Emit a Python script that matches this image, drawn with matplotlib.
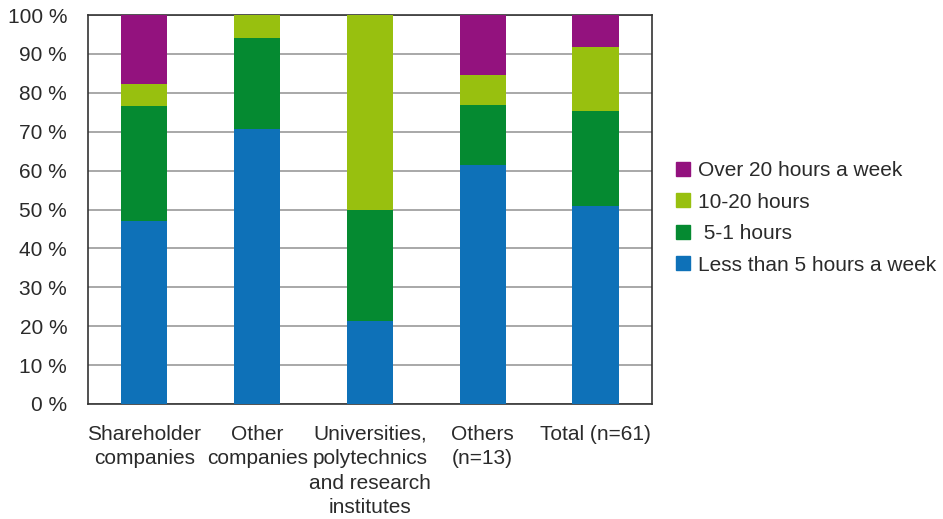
import matplotlib
matplotlib.use("Agg")
import matplotlib.pyplot as plt
import numpy as np
from matplotlib.patches import Patch

categories = ["Shareholder\ncompanies", "Other\ncompanies", "Universities,\npolytechnics\nand research\ninstitutes",
              "Others\n(n=13)", "Total (n=61)"]
series_names = ["Less than 5 hours a week", " 5-1 hours", "10-20 hours", "Over 20 hours a week"]
less_5 = [47.1, 70.6, 21.4, 61.5, 50.8]
five_one = [29.4, 23.5, 28.6, 15.4, 24.6]
ten_twenty = [5.9, 5.9, 50.0, 7.7, 16.4]
over_20 = [17.6, 0.0, 0.0, 15.4, 8.2]
colors = ["#0e71b8", "#058a31", "#98c00f", "#93127e"]
yticks = list(range(0, 101, 10))

plt.rcParams["font.family"] = ["Liberation Sans", "DejaVu Sans"]
text_color = "#2a2a2a"
fs = 15

fig = plt.figure(figsize=(9.43, 5.19), dpi=100)
ax = fig.add_axes([0.0933, 0.2216, 0.598, 0.7494])

x = np.arange(len(categories))
bottom = np.zeros(len(categories))
for vals, col in zip([less_5, five_one, ten_twenty, over_20], colors):
    ax.bar(x, vals, bottom=bottom, width=0.41, color=col, zorder=3)
    bottom += np.array(vals)

ax.set_xlim(-0.5, len(categories) - 0.5)
ax.set_ylim(0, 100)
ax.set_yticks(yticks)
ax.set_yticklabels([f"{t} %" for t in yticks], fontsize=fs, color=text_color)
ax.set_xticks(x)
ax.set_xticklabels(categories, fontsize=fs, color=text_color, linespacing=1.36)
ax.tick_params(axis="y", length=0, pad=15)
ax.tick_params(axis="x", length=0, pad=15)
ax.grid(axis="y", color="#9a9a9a", linewidth=1.2, zorder=0)
for s in ax.spines.values():
    s.set_color("#333333")
    s.set_linewidth(1.2)

handles = [Patch(color=c, label=n) for c, n in zip(colors, series_names)][::-1]
fig.legend(handles=handles, loc="center left", bbox_to_anchor=(0.697, 0.58), frameon=False,
           fontsize=fs, handlelength=0.65, handleheight=0.65, handletextpad=0.4, labelspacing=0.6,
           labelcolor=text_color)

fig.savefig("out.png", dpi=100)
